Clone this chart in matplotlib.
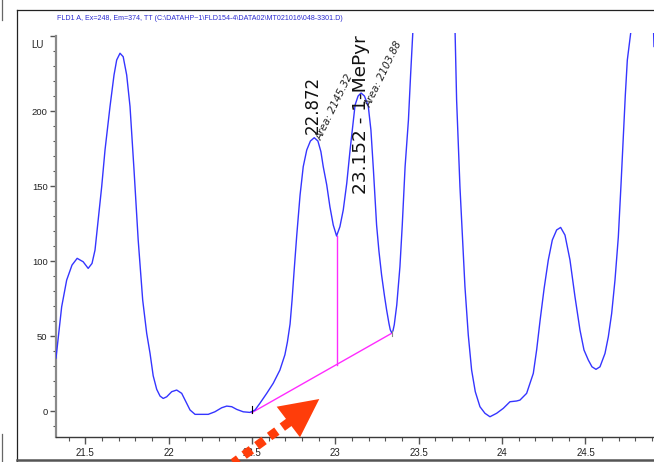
import numpy as np
import matplotlib
matplotlib.use("Agg")
import matplotlib.pyplot as plt
from matplotlib.lines import Line2D
from matplotlib.patches import Polygon
from matplotlib.ticker import MultipleLocator, FixedLocator, FixedFormatter

# --- signal trace (retention time in min, response in LU); NaN = off scale ---
rt = [21.324, 21.358, 21.388, 21.420, 21.451, 21.487, 21.517, 21.540, 21.558,
      21.577, 21.598, 21.618, 21.648, 21.672, 21.688, 21.708, 21.727, 21.748,
      21.768, 21.792, 21.817, 21.844, 21.868, 21.888, 21.907, 21.928, 21.948,
      21.967, 21.988, 22.018, 22.048, 22.078, 22.108, 22.128, 22.158, 22.237,
      22.277, 22.318, 22.348, 22.378, 22.408, 22.447, 22.487, 22.518, 22.548,
      22.588, 22.627, 22.667, 22.697, 22.712, 22.728, 22.740, 22.752, 22.768,
      22.788, 22.807, 22.828, 22.850, 22.873, 22.895, 22.913, 22.927, 22.948,
      22.967, 22.987, 23.007, 23.027, 23.047, 23.068, 23.088, 23.118, 23.136,
      23.154, 23.174, 23.197, 23.213, 23.228, 23.247, 23.261, 23.277, 23.294,
      23.307, 23.321, 23.329, 23.337, 23.345, 23.353, 23.368, 23.387, 23.401,
      23.418, 23.438, 23.451, 23.464, 23.470, 23.590, 23.714, 23.718, 23.727,
      23.747, 23.763, 23.777, 23.797, 23.817, 23.839, 23.867, 23.897, 23.927,
      23.967, 24.007, 24.047, 24.087, 24.107, 24.147, 24.187, 24.207, 24.228,
      24.252, 24.277, 24.301, 24.327, 24.351, 24.377, 24.407, 24.437, 24.467,
      24.491, 24.517, 24.539, 24.563, 24.587, 24.617, 24.637, 24.657, 24.677,
      24.697, 24.713, 24.727, 24.739, 24.751, 24.771, 24.774, 24.850, 24.906,
      24.911]
signal = [35.3, 69.5, 87.3, 97.3, 101.8, 99.5, 95.1, 98.4, 107.3,
          127.3, 149.5, 174.0, 203.0, 224.0, 234.0, 238.5, 236.2, 224.0,
          203.0, 160.7, 114.0, 74.0, 51.8, 38.5, 23.5, 14.5, 10.0,
          8.4, 9.5, 12.9, 14.0, 11.8, 5.1, 0.7, -2.2, -2.2,
          -0.5, 2.2, 3.3, 2.9, 1.1, -0.5, -0.9, 0.7, 5.3,
          11.8, 18.5, 27.3, 37.5, 46.0, 58.0, 74.0, 93.0, 117.0,
          144.0, 162.9, 174.0, 180.0, 182.2, 180.0, 172.9, 162.9, 150.7,
          136.2, 124.0, 116.7, 122.9, 134.0, 151.8, 174.0, 204.0, 210.0,
          212.0, 210.0, 203.3, 187.3, 160.7, 124.0, 106.7, 90.7, 77.0,
          67.5, 58.5, 54.2, 52.3, 53.4, 57.5, 70.7, 96.2, 124.0,
          162.9, 194.0, 224.0, 251.8, 262.0, np.nan, 262.0, 251.8, 207.3,
          149.5, 114.0, 82.9, 50.7, 27.3, 12.9, 2.9, -1.5, -3.8,
          -1.5, 1.8, 6.2, 6.7, 7.3, 11.8, 25.1, 40.7, 60.7,
          81.8, 100.7, 114.0, 120.7, 122.4, 117.3, 100.7, 76.2, 54.0,
          40.7, 34.0, 29.5, 27.8, 29.5, 38.4, 49.5, 65.0, 87.3,
          116.0, 150.7, 183.0, 210.7, 234.0, 251.8, 262.0, np.nan, 262.0,
          243.0]

# --- integration of the two labelled peaks ---
baseline_rt = [22.498, 23.337]
baseline_lu = [-1.1, 51.8]
valley_rt = 23.007
valley_lu = 116.7
peak_rt = [22.872, 23.152]
peak_lu = [182.2, 212.0]
peak_names = ["22.872", "23.152 - 1-MePyr"]
peak_areas = ["Area: 2145.32", "Area: 2103.88"]

# --- axes ---
x_major = [21.5, 22.0, 22.5, 23.0, 23.5, 24.0, 24.5]
x_labels = ["21.5", "22", "22.5", "23", "23.5", "24", "24.5"]
y_major = [0, 50, 100, 150, 200, 250]
y_labels = ["0", "50", "100", "150", "200", ""]
y_unit = "LU"
title = r"FLD1 A, Ex=248, Em=374, TT (C:\DATAHP~1\FLD154-4\DATA02\MT021016\048-3301.D)"

W, H = 654, 462
SANS = ["Liberation Sans", "DejaVu Sans"]

fig = plt.figure(figsize=(W / 100, H / 100), dpi=100)
fig.patch.set_facecolor("white")


def fp(px, py):
    """pixel position -> figure fraction"""
    return px / W, 1 - py / H


ax = fig.add_axes([56 / W, (H - 437) / H, (W - 56) / W, (437 - 33) / H])
ax.set_facecolor("white")
ax.set_xlim(21.324, 24.911)
ax.set_ylim(-17.3, 252)

trace_color = "#3535ff"
ax.plot(rt, signal, color=trace_color, lw=1.0, zorder=3,
        solid_joinstyle="round")

pink = "#ff2bff"
ax.plot(baseline_rt, baseline_lu, color=pink, lw=1.0, zorder=2)
drop_base = np.interp(valley_rt, baseline_rt, baseline_lu)
ax.plot([valley_rt, valley_rt], [drop_base, valley_lu], color=pink, lw=1.0, zorder=2)
ax.plot([baseline_rt[0]] * 2, [baseline_lu[0], baseline_lu[0] + 4.5], color="black", lw=0.8, zorder=4)
ax.plot([baseline_rt[1]] * 2, [baseline_lu[1] - 1.5, baseline_lu[1] + 1.5], color="#888888", lw=0.8, zorder=4)

# peak labels
ax.text(peak_rt[0] - 0.005, peak_lu[0] + 2.5, peak_names[0], rotation=90,
        rotation_mode="anchor", ha="left", va="center", fontsize=12,
        family="DejaVu Sans", color="#111111", zorder=5)
ax.text(peak_rt[1], 145.0, peak_names[1], rotation=90,
        rotation_mode="anchor", ha="left", va="center", fontsize=13.3,
        family="DejaVu Sans", color="#111111", zorder=5)
ax.text(peak_rt[0] + 0.028, peak_lu[0] - 1.0, peak_areas[0], rotation=64,
        rotation_mode="anchor", ha="left", va="center", fontsize=7.3,
        style="italic", family="DejaVu Sans", color="#222222", zorder=5)
ax.text(peak_rt[1] + 0.045, peak_lu[1] - 9.0, peak_areas[1], rotation=64,
        rotation_mode="anchor", ha="left", va="center", fontsize=7.3,
        style="italic", family="DejaVu Sans", color="#222222", zorder=5)

# spines and ticks
for s in ("top", "right"):
    ax.spines[s].set_visible(False)
ax.spines["left"].set_color("#8a8a8a")
ax.spines["left"].set_linewidth(1.6)
ax.spines["left"].set_bounds(-17.3, 250)
ax.spines["bottom"].set_color("#3a3a3a")
ax.spines["bottom"].set_linewidth(1.0)

ax.xaxis.set_major_locator(FixedLocator(x_major))
ax.xaxis.set_major_formatter(FixedFormatter(x_labels))
ax.xaxis.set_minor_locator(MultipleLocator(0.1))
ax.yaxis.set_major_locator(FixedLocator(y_major))
ax.yaxis.set_major_formatter(FixedFormatter(y_labels))
ax.yaxis.set_minor_locator(MultipleLocator(10))

ax.tick_params(axis="x", which="major", direction="out", length=5, width=1,
               color="#555555", labelsize=7, pad=3, labelcolor="#222222")
ax.tick_params(axis="x", which="minor", direction="out", length=3, width=0.8,
               color="#555555")
ax.tick_params(axis="y", which="major", direction="out", length=4, width=1,
               color="#555555", labelsize=6.8, pad=2, labelcolor="#222222")
ax.tick_params(axis="y", which="minor", direction="out", length=2.5, width=0.8,
               color="#555555")
for lab in ax.get_xticklabels() + ax.get_yticklabels():
    lab.set_family(SANS)

fig.text(*fp(37.5, 45), y_unit, ha="center", va="center", fontsize=7,
         family=SANS, color="#222222")
fig.text(*fp(57, 18), title, ha="left", va="center", fontsize=5.1,
         family=SANS, color="#2b2bd0")

# window frame
frame = dict(transform=fig.transFigure, zorder=1)
fig.add_artist(Line2D(*zip(fp(17, 10), fp(W, 10)), color="#222222", lw=0.9, **frame))
fig.add_artist(Line2D(*zip(fp(17, 10), fp(17, H)), color="#222222", lw=0.9, **frame))
fig.add_artist(Line2D(*zip(fp(17, 460), fp(W, 460)), color="#555555", lw=1.8, **frame))
fig.add_artist(Line2D(*zip(fp(1.5, 0), fp(1.5, 20)), color="#666666", lw=0.9, **frame))
fig.add_artist(Line2D(*zip(fp(1.5, 434), fp(1.5, H)), color="#666666", lw=0.9, **frame))

# pointer arrow
arrow_c = "#ff3d0a"
u = np.array([-0.808, 0.591])
start = np.array([289.6, 421.8])
end = start + 80 * u
shaft = Line2D(*zip(fp(*start), fp(*end)), transform=fig.transFigure,
               color=arrow_c, lw=6.5, linestyle=(0, (1.0, 0.75)),
               dash_capstyle="butt", zorder=10)
fig.add_artist(shaft)
head = Polygon([fp(276.7, 406.7), fp(319.3, 399.0), fp(300.0, 437.3)],
               closed=True, transform=fig.transFigure, facecolor=arrow_c,
               edgecolor="none", zorder=10)
fig.add_artist(head)

fig.savefig("out.png", dpi=100, facecolor="white")
